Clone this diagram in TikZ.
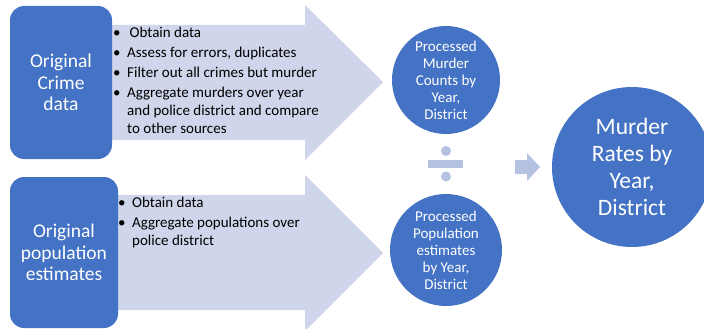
\documentclass[tikz,border=0pt]{standalone}
\usepackage{fontspec}
\setmainfont{Carlito}
\definecolor{mblue}{HTML}{4472C4}
\definecolor{larrow}{HTML}{CFD5EA}
\definecolor{divc}{HTML}{B4C1E1}
\begin{document}
\begin{tikzpicture}[x=1pt,y=-1pt,
  srcbox/.style={fill=mblue,rounded corners=14pt,text=white,align=center,font=\fontsize{19.5}{21.5}\selectfont},
  proc/.style={circle,fill=mblue,text=white,align=center,minimum size=#1,inner sep=0pt,font=\fontsize{15}{17}\selectfont},
  bullets/.style={anchor=north west,inner sep=0pt,align=left,font=\fontsize{15}{18}\selectfont},
  bigarrow/.style={fill=larrow},
]
\useasboundingbox (0,0) rectangle (704,329);
% big arrows
\fill[bigarrow] (100,25) -- (305,25) -- (305,5) -- (383,82) -- (305,160) -- (305,140) -- (100,140) -- cycle;
\fill[bigarrow] (100,195) -- (305,195) -- (305,175) -- (383,253) -- (305,331) -- (305,310) -- (100,310) -- cycle;
% source boxes
\node[srcbox,minimum width=102pt,minimum height=153pt] (crime) at (61,82.5) {Original\\Crime\\data};
\node[srcbox,minimum width=108pt,minimum height=151pt] (pop) at (64,252.5) {Original\\population\\estimates};
% bullet lists
\node[bullets] (l1) at (113,25) {\begin{tabular}{@{}p{14pt}@{}l@{}}
\textbullet & \,Obtain data\\[2pt]
\textbullet & Assess for errors, duplicates\\[2pt]
\textbullet & Filter out all crimes but murder\\[2pt]
\textbullet & Aggregate murders over year\\
 & and police district and compare\\
 & to other sources
\end{tabular}};
\node[bullets] (l2) at (118,195) {\begin{tabular}{@{}p{14pt}@{}l@{}}
\textbullet & Obtain data\\[2pt]
\textbullet & Aggregate populations over\\
 & police district
\end{tabular}};
% processed circles
\node[proc=108pt] (mc) at (446,80) {Processed\\Murder\\Counts by\\Year,\\District};
\node[proc=112pt] (pe) at (446,250) {Processed\\Population\\estimates\\by Year,\\District};
% division sign
\fill[divc] (428,160) rectangle (463,168);
\fill[divc] (446,151) circle (5);
\fill[divc] (446,176.5) circle (5);
% small arrow
\fill[divc] (515,160) -- (527,160) -- (527,153) -- (540,167) -- (527,181) -- (527,174) -- (515,174) -- cycle;
% result
\node[circle,fill=mblue,text=white,align=center,minimum size=160pt,inner sep=0pt,font=\fontsize{23.5}{27}\selectfont] (mr) at (632,167) {Murder\\Rates by\\Year,\\District};
\end{tikzpicture}
\end{document}
